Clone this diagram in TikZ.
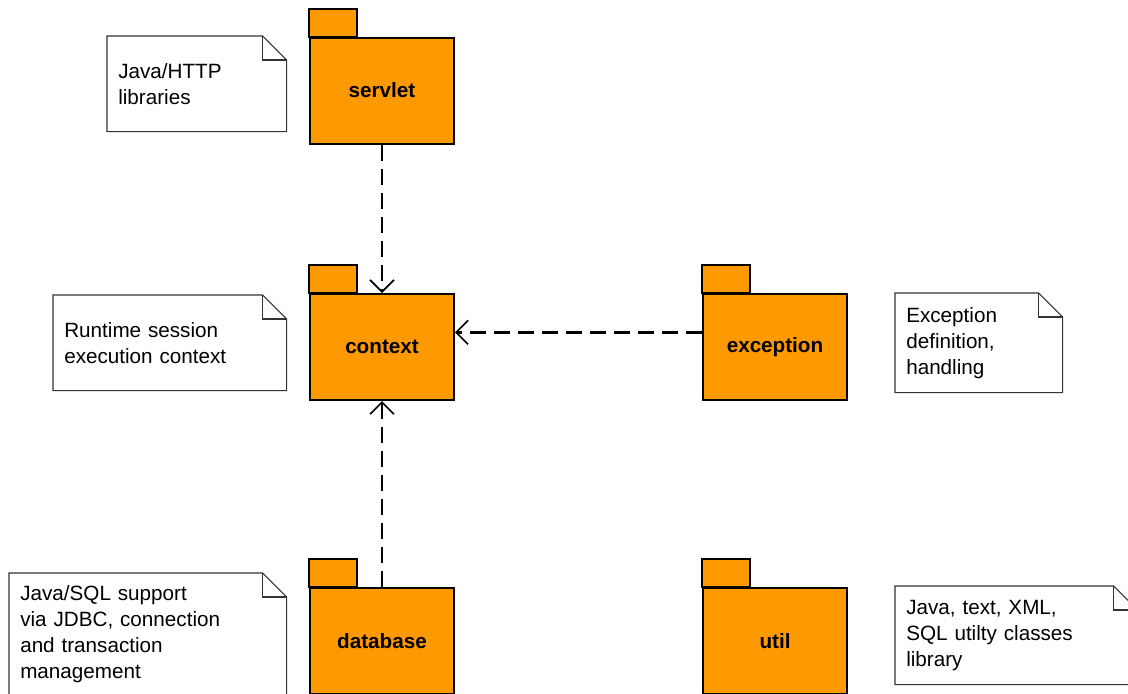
\documentclass[tikz,border=0pt]{standalone}
\usepackage{fontspec}
\setmainfont{Liberation Sans}
\usetikzlibrary{arrows.meta}
\definecolor{pkgorange}{RGB}{255,153,0}
\newcommand\dogear[1]{%
 \draw[noteline] (#1.north west) -- ([xshift=-18pt]#1.north east) -- ([yshift=-18pt]#1.north east) -- (#1.south east) -- (#1.south west) -- cycle;
 \draw[noteline] ([xshift=-18pt]#1.north east) |- ([yshift=-18pt]#1.north east);}
\begin{document}
\begin{tikzpicture}[x=0.75pt, y=-0.75pt, font=\fontsize{15.5pt}{19.5pt}\selectfont, line join=miter,
 pkg/.style={draw=black, line width=1.5pt, fill=pkgorange, minimum width=108pt, minimum height=79.5pt, inner sep=0pt, font=\fontsize{15.5pt}{19.5pt}\selectfont\bfseries},
 pkgtab/.style={draw=black, line width=1.5pt, fill=pkgorange},
 note/.style={anchor=north west, inner xsep=8.25pt, inner ysep=0pt, align=left},
 noteline/.style={draw=black!80, line width=0.8pt},
 dep/.style={line width=2.2pt, dash pattern=on 12pt off 6pt, -{Straight Barb[length=9pt,width=18pt,line width=1.2pt]}}]
 \useasboundingbox (0,0) rectangle (1128,693);
 \clip (0,0) rectangle (1128,693);
 % packages
 \foreach \name/\x/\y in {servlet/382/90.5, context/382/347, exception/775/347, database/382/641, util/775/641}{
  \node[pkg] (\name) at (\x,\y) {\name};
  \draw[pkgtab] (\name.north west) rectangle ++(48,-28);
 }
 % notes
 \node[note, text width=117.75pt, minimum height=71.25pt] (servletnote) at (107,36) {Java/HTTP\\libraries};
 \node[note, text width=158.25pt, minimum height=71.25pt] (contextnote) at (53,295) {Runtime session\\execution context};
 \node[note, text width=108.75pt, minimum height=74.25pt] (exceptionnote) at (895,293) {Exception\\definition,\\handling};
 \node[note, text width=191.25pt, minimum height=91.5pt] (databasenote) at (9,573) {Java/SQL support\\via JDBC, connection\\and transaction\\management};
 \node[note, text width=165pt, minimum height=73.5pt] (utilnote) at (895,586) {Java, text, XML,\\SQL utilty classes\\library};
 \foreach \n in {servletnote, contextnote, exceptionnote, databasenote, utilnote}
  \dogear{\n};
 % dependencies
 \draw[dep] (servlet.south) -- (context.north);
 \draw[dep] ([yshift=11pt]exception.west) -- ([yshift=11pt]context.east);
 \draw[dep] (database.north) -- (context.south);
\end{tikzpicture}
\end{document}
